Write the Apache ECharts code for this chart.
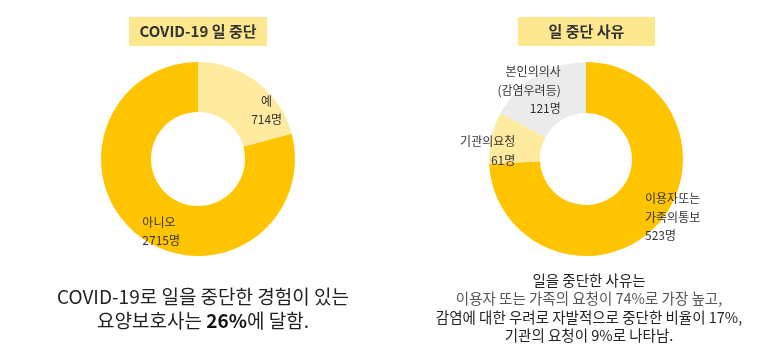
<!DOCTYPE html>
<html><head><meta charset="utf-8">
<script src="https://cdn.jsdelivr.net/npm/echarts@6/dist/echarts.min.js"></script>
<style>html,body{margin:0;padding:0;background:#fff}#c{width:781px;height:359px}</style>
</head><body><div id="c"></div>
<script>
const leftNames = ['예', '아니오'];
const leftValues = [714, 2715];
const rightNames = ['이용자또는\n가족의통보', '기관의요청', '본인의의사\n(감염우려등)'];
const rightValues = [523, 61, 121];
const leftColors = ['#ffeba0', '#ffc400'];
const rightColors = ['#ffc400', '#ffeba0', '#ebebeb'];
// label nudges (style only)
const leftLabelLayout = [{ dx: 23, dy: 11, align: 'center' }, { dx: -10, dy: 13, align: 'left' }];
const rightLabelLayout = [{ dx: 5, dy: 7, align: 'left' }, { dx: 2, dy: 8, align: 'right' }, { dx: 13, dy: -5, align: 'right' }];
const FONT = '"Noto Sans CJK KR", "Noto Sans", sans-serif';

const chart = echarts.init(document.getElementById('c'));
function mk(names, values, colors) {
  return names.map((n, i) => ({ name: n, value: values[i], itemStyle: { color: colors[i] } }));
}
const labelCfg = {
  show: true, position: 'inside', color: '#333', fontSize: 12, fontFamily: FONT, lineHeight: 18.5,
  formatter: p => p.name + '\n' + p.value + '명'
};
function titleBox(cx, w, text) {
  return {
    type: 'group', children: [
      { type: 'rect', shape: { x: cx - w / 2, y: 17, width: w, height: 29 }, style: { fill: '#fde88f' } },
      { type: 'text', x: cx, y: 31.5, style: { text: text, align: 'center', verticalAlign: 'middle',
        fontSize: 15, fontWeight: 'bold', fill: '#333', fontFamily: FONT } }
    ]
  };
}
chart.setOption({
  animation: false,
  series: [
    { type: 'pie', center: [198, 159], radius: [47, 97], startAngle: 90, clockwise: true,
      label: labelCfg, labelLine: { show: false }, emphasis: { disabled: true },
      labelLayout: p => leftLabelLayout[p.dataIndex],
      data: mk(leftNames, leftValues, leftColors) },
    { type: 'pie', center: [586, 159], radius: [46, 97], startAngle: 90, clockwise: true,
      label: labelCfg, labelLine: { show: false }, emphasis: { disabled: true },
      labelLayout: p => rightLabelLayout[p.dataIndex],
      data: mk(rightNames, rightValues, rightColors) }
  ],
  graphic: [
    titleBox(198, 138, 'COVID-19 일 중단'),
    titleBox(586.5, 137, '일 중단 사유'),
    { type: 'text', x: 203, y: 309, style: {
        text: 'COVID-19로 일을 중단한 경험이 있는\n{n|요양보호사는 }{b|26%}{n|에 달함.}',
        align: 'center', verticalAlign: 'middle', fill: '#222', fontSize: 19, lineHeight: 24, fontFamily: FONT,
        rich: { n: { fontSize: 19, fontFamily: FONT, fill: '#222', lineHeight: 24 }, b: { fontSize: 19, fontWeight: 'bold', fontFamily: FONT, fill: '#111', lineHeight: 24 } } } },
    { type: 'text', x: 589, y: 308, style: {
        text: '{d|일을 중단한 사유는}\n{g|이용자 또는 가족의 요청이 74%로 가장 높고,}\n{d|감염에 대한 우려로 자발적으로 중단한 비율이 17%,}\n{d|기관의 요청이 9%로 나타남.}',
        align: 'center', verticalAlign: 'middle', fontSize: 14.5, lineHeight: 18.3, fontFamily: FONT,
        rich: { d: { fontSize: 14.5, fill: '#222', fontFamily: FONT, lineHeight: 18.3 }, g: { fontSize: 14.5, fill: '#555', fontFamily: FONT, lineHeight: 18.3 } } } }
  ]
});
</script></body></html>
